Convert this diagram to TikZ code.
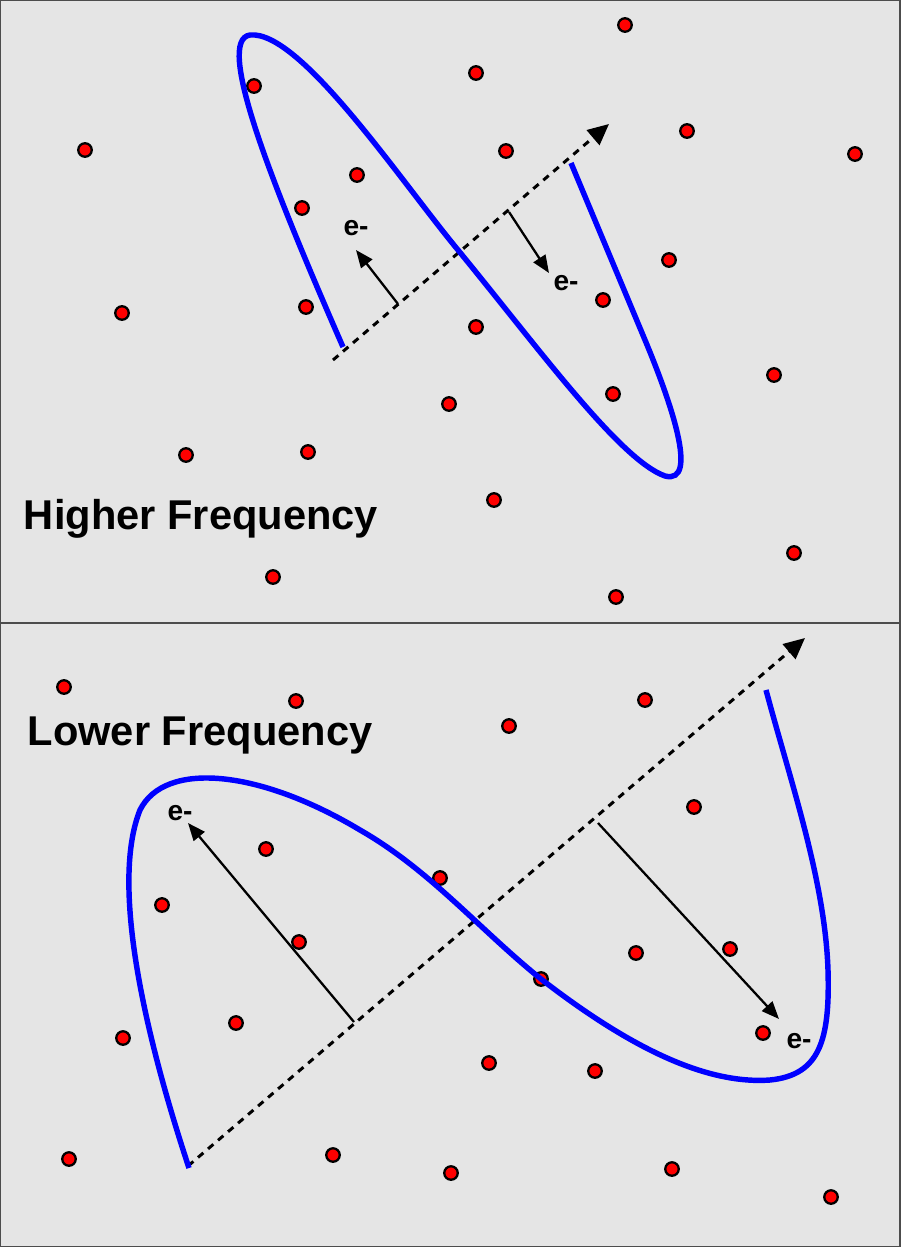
\documentclass[tikz,border=0pt]{standalone}
\usepackage{fontspec}
\setmainfont{Liberation Sans}
\usetikzlibrary{arrows.meta}
\begin{document}
\begin{tikzpicture}[x=0.02cm,y=-0.02cm,
 dot/.style={circle,fill=red,draw=black,line width=1.3pt,minimum size=0.27cm,inner sep=0pt},
 wave/.style={draw=blue,line width=3.1pt},
 prop/.style={dashed,dash pattern=on 4pt off 3.5pt,line width=1.7pt,-{Triangle[length=12pt,width=11pt]}},
 field/.style={line width=1.3pt,-{Triangle[length=10pt,width=8pt]}},
 lbl/.style={font=\fontsize{23.7}{26}\selectfont\bfseries},
 elbl/.style={font=\fontsize{16}{18}\selectfont\bfseries,inner sep=0pt}]
\useasboundingbox (0,0) rectangle (900,1247);
\draw[fill=black!10,draw=black!70,line width=0.8pt] (0,0) rectangle (900,623);
\draw[fill=black!10,draw=black!70,line width=0.8pt] (0,623) rectangle (900,1247);
% top dots
\foreach \p [count=\i] in {(625,25),(476,73),(254,86),(687,131),(85,150),(506,151),(855,154),(357,175),(302,208),(669,260),(122,313),(306,307),(603,300),(476,327),(774,375),(613,394),(449,404),(186,455),(308,452),(494,500),(794,553),(273,577),(616,597)}
  \node[dot] (t\i) at \p {};
\foreach \p [count=\i] in {(64,687),(296,701),(645,700),(509,726),(694,807),(266,849),(440,878),(162,905),(299,942),(636,953),(730,949),(541,979),(236,1023),(123,1038),(763,1033),(489,1063),(595,1071),(69,1159),(333,1155),(451,1173),(672,1169),(831,1197)}
  \node[dot] (b\i) at \p {};
% top
\coordinate (ts) at (333,360); \coordinate (te) at (609,124);
\draw[prop] (ts) -- (te);
\draw[wave] (343,347) .. controls (270,180) and (215,40) .. (250,35) .. controls (300,30) and (400,180) .. (458,250) .. controls (540,350) and (620,460) .. (665,476) .. controls (700,485) and (670,400) .. (645,340) -- (571,163);
\coordinate (a1) at (398,304); \coordinate (a2) at (509,212);
\node[elbl] (e1) at (356,228) {e-};
\node[elbl] (e2) at (566,283) {e-};
\draw[field] (a1) -- (356,250);
\draw[field] (a2) -- (549,273);
% bottom
\coordinate (bs) at (188,1166); \coordinate (be) at (805,638);
\draw[prop] (bs) -- (be);
\draw[wave] (189,1168) .. controls (140,1020) and (112,880) .. (140,810) .. controls (165,760) and (260,770) .. (360,830) .. controls (430,870) and (480,930) .. (541,979) .. controls (620,1040) and (700,1085) .. (770,1080) .. controls (820,1075) and (830,1040) .. (828,970) .. controls (825,880) and (790,780) .. (766,690);
\coordinate (c1) at (354,1022); \coordinate (c2) at (598,823);
\node[elbl] (e3) at (180,813) {e-};
\node[elbl] (e4) at (799,1041) {e-};
\draw[field] (c1) -- (188,823);
\draw[field] (c2) -- (779,1019);
\node[lbl] (h) at (201,519) {Higher Frequency};
\node[lbl] (l) at (200,735) {Lower Frequency};
\end{tikzpicture}
\end{document}
